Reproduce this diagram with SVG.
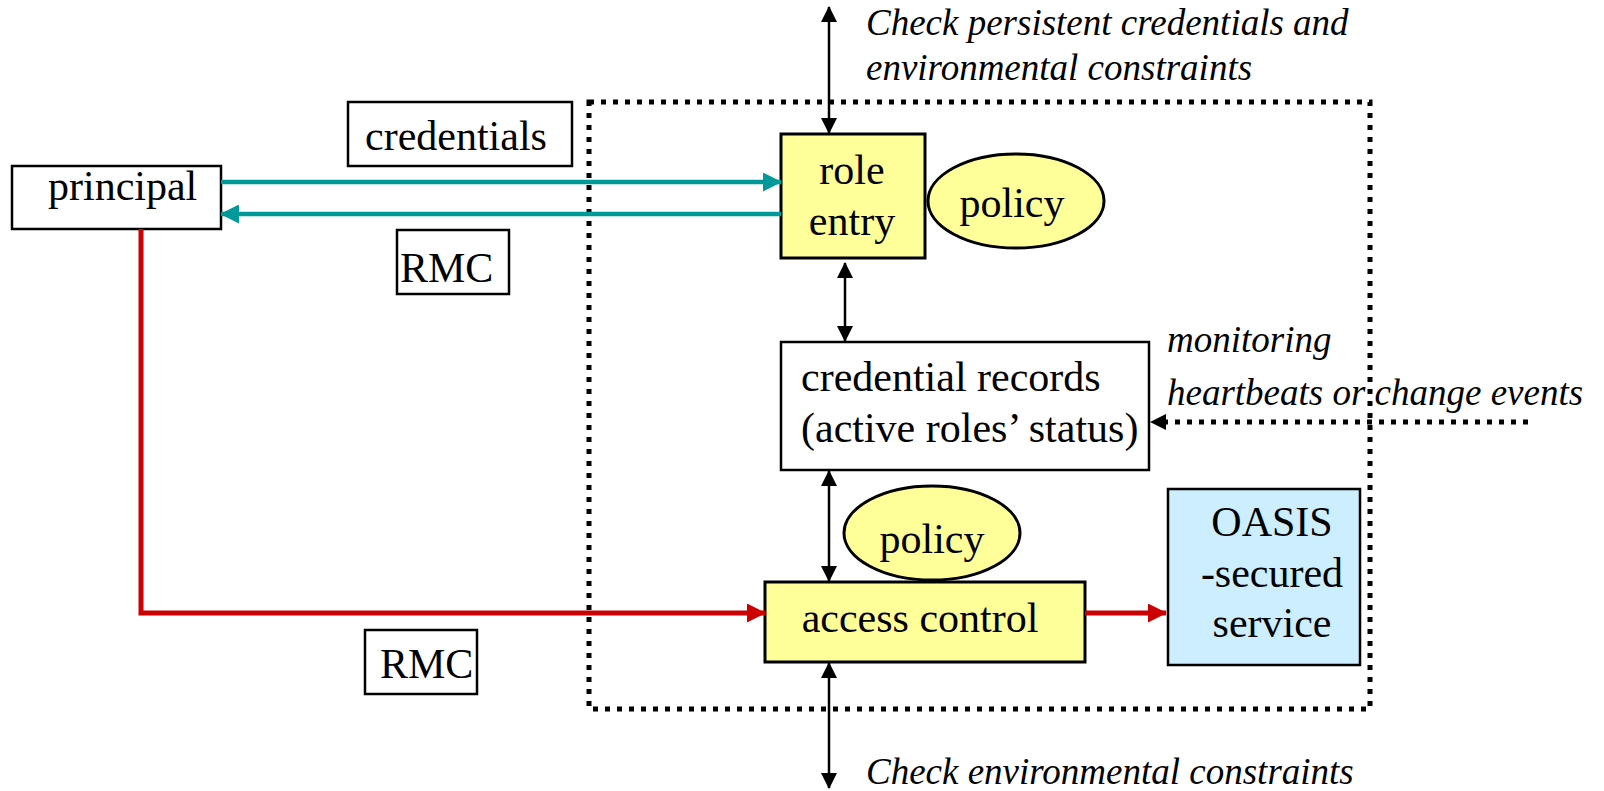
<svg xmlns="http://www.w3.org/2000/svg" width="1604" height="791" viewBox="0 0 1604 791">
<style>
.t{font-family:"Liberation Serif","Times New Roman",serif;font-size:42px;fill:#000}
.i{font-family:"Liberation Serif","Times New Roman",serif;font-size:37px;font-style:italic;fill:#000}
.box{fill:#fff;stroke:#000;stroke-width:2.5}
.yel{fill:#ffff99;stroke:#000;stroke-width:3}
.thin{stroke:#000;stroke-width:2.5;fill:none}
.dot{stroke:#000;stroke-width:5;fill:none;stroke-dasharray:5 7}
.teal{stroke:#009999;stroke-width:4.5;fill:none}
.red{stroke:#cc0000;stroke-width:5;fill:none}
</style>
<defs>
<marker id="ab" markerWidth="16" markerHeight="16" refX="15" refY="8" orient="auto-start-reverse" markerUnits="userSpaceOnUse"><path d="M0,0 L16,8 L0,16 z" fill="#000"/></marker>
<marker id="at" markerWidth="19" markerHeight="19" refX="18" refY="9.5" orient="auto" markerUnits="userSpaceOnUse"><path d="M0,0 L19,9.5 L0,19 z" fill="#009999"/></marker>
<marker id="ar" markerWidth="19" markerHeight="19" refX="18" refY="9.5" orient="auto" markerUnits="userSpaceOnUse"><path d="M0,0 L19,9.5 L0,19 z" fill="#cc0000"/></marker>
</defs>

<g id="boundary"><rect class="dot" x="589" y="102" width="781" height="607"/></g>

<g id="principal"><rect class="box" x="12" y="166" width="209" height="63"/><text class="t" x="48" y="200">principal</text></g>
<g id="credentials-label"><rect class="box" x="348" y="102" width="224" height="64"/><text class="t" x="365" y="150">credentials</text></g>
<g id="rmc-top"><rect class="box" x="397" y="230" width="112" height="64"/><text class="t" x="400" y="282">RMC</text></g>
<g id="rmc-bottom"><rect class="box" x="365" y="630" width="112" height="64"/><text class="t" x="380" y="678">RMC</text></g>

<g id="role-entry"><rect class="yel" x="781" y="134" width="144" height="124"/><text class="t" text-anchor="middle" x="852" y="184">role</text><text class="t" text-anchor="middle" x="852" y="235">entry</text></g>
<g id="policy1"><ellipse class="yel" cx="1016" cy="201" rx="88" ry="47" stroke-width="2"/><text class="t" text-anchor="middle" x="1012" y="217">policy</text></g>
<g id="credential-records"><rect class="box" x="781" y="342" width="368" height="128"/><text class="t" x="801" y="391">credential records</text><text class="t" x="801" y="442">(active roles’ status)</text></g>
<g id="policy2"><ellipse class="yel" cx="932" cy="533" rx="88" ry="47" stroke-width="2"/><text class="t" text-anchor="middle" x="932" y="553">policy</text></g>
<g id="access-control"><rect class="yel" x="765" y="582" width="320" height="80"/><text class="t" text-anchor="middle" x="920" y="632">access control</text></g>
<g id="oasis-service"><rect x="1168" y="489" width="192" height="176" fill="#cceeff" stroke="#000" stroke-width="2.5"/><text class="t" text-anchor="middle" x="1272" y="536">OASIS</text><text class="t" text-anchor="middle" x="1272" y="587">-secured</text><text class="t" text-anchor="middle" x="1272" y="637">service</text></g>

<g id="labels">
<text class="i" x="866" y="35">Check persistent credentials and</text>
<text class="i" x="866" y="80">environmental constraints</text>
<text class="i" x="1167" y="352">monitoring</text>
<text class="i" x="1167" y="405">heartbeats or change events</text>
<text class="i" x="866" y="784">Check environmental constraints</text>
</g>

<g id="connectors">
<line class="teal" x1="221" y1="182" x2="781" y2="182" marker-end="url(#at)"/>
<line class="teal" x1="781" y1="214" x2="221" y2="214" marker-end="url(#at)"/>
<polyline class="red" points="141,229 141,613 765,613" marker-end="url(#ar)"/>
<line class="red" x1="1085" y1="613" x2="1166" y2="613" marker-end="url(#ar)"/>
<line class="thin" x1="829" y1="7" x2="829" y2="133" marker-start="url(#ab)" marker-end="url(#ab)"/>
<line class="thin" x1="845" y1="263" x2="845" y2="341" marker-start="url(#ab)" marker-end="url(#ab)"/>
<line class="thin" x1="829" y1="471" x2="829" y2="581" marker-start="url(#ab)" marker-end="url(#ab)"/>
<line class="thin" x1="829" y1="663" x2="829" y2="788" marker-start="url(#ab)" marker-end="url(#ab)"/>
<line class="dot" x1="1528" y1="422" x2="1164" y2="422"/>
<path d="M1150,422 L1166,414 L1166,430 z" fill="#000"/>
</g>
</svg>
